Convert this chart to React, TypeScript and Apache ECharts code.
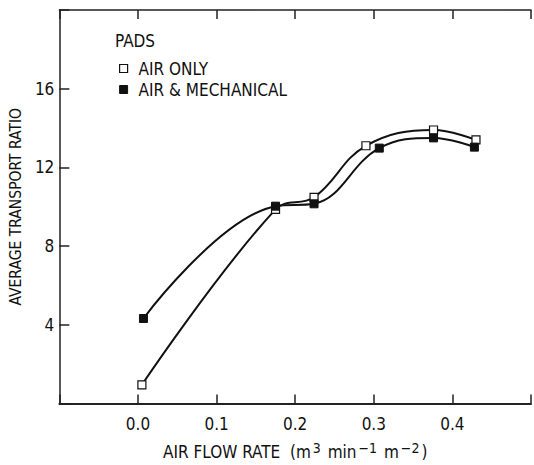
import React, { useEffect, useRef } from "react";
import * as echarts from "echarts";

const airOnlyX = [0.005, 0.175, 0.224, 0.29, 0.376, 0.43];
const airOnlyY = [0.95, 9.87, 10.48, 13.1, 13.9, 13.4];
const airMechX = [0.007, 0.175, 0.224, 0.307, 0.376, 0.428];
const airMechY = [4.32, 10.03, 10.15, 12.98, 13.5, 13.03];
const xTicks = [0.0, 0.1, 0.2, 0.3, 0.4];
const yTicks = [4, 8, 12, 16];

const FONT = "'DejaVu Sans Condensed', 'Liberation Sans Narrow', 'DejaVu Sans', sans-serif";

export default function App() {
  const ref = useRef<HTMLDivElement>(null);
  useEffect(() => {
    if (!ref.current) return;
    const chart = echarts.init(ref.current, undefined, { renderer: "svg" });
    const pair = (xs: number[], ys: number[]) => xs.map((x, i) => [x, ys[i]]);
    const fmtX = (v: number) => {
      const r = Math.round(v * 10) / 10;
      return xTicks.some((t) => Math.abs(t - r) < 1e-6) ? r.toFixed(1) : "";
    };
    const fmtY = (v: number) => (yTicks.includes(Math.round(v)) ? String(Math.round(v)) : "");
    chart.setOption({
      animation: false,
      backgroundColor: "#fff",
      textStyle: { fontFamily: FONT, color: "#111" },
      grid: { left: 57, right: 0, top: 10, bottom: 56, containLabel: false },
      xAxis: [
        {
          type: "value",
          position: "bottom",
          min: -0.1,
          max: 0.5,
          interval: 0.1,
          axisLine: { show: true, onZero: false, lineStyle: { color: "#222", width: 2 } },
          axisTick: { show: true, inside: true, length: 9, lineStyle: { color: "#222", width: 1.5 } },
          axisLabel: { formatter: fmtX, fontSize: 17, color: "#111", fontFamily: FONT, margin: 12 },
          splitLine: { show: false },
          name: "AIR FLOW RATE  (m{sup|3} min{sup|−1} m{sup|−2})",
          nameLocation: "middle",
          nameGap: 37,
          nameTextStyle: {
            fontSize: 17,
            color: "#111",
            fontFamily: FONT,
            rich: { sup: { fontSize: 14, verticalAlign: "top", padding: [0, 2, 8, 2], fontFamily: FONT, color: "#111" } },
          },
        },
        {
          type: "value",
          position: "top",
          min: -0.1,
          max: 0.5,
          interval: 0.1,
          axisLine: { show: true, onZero: false, lineStyle: { color: "#222", width: 1.5 } },
          axisTick: { show: true, inside: true, length: 9, lineStyle: { color: "#222", width: 1.5 } },
          axisLabel: { show: false },
          splitLine: { show: false },
        },
      ],
      yAxis: {
        type: "value",
        min: 0,
        max: 20,
        interval: 4,
        axisLine: { show: true, onZero: false, lineStyle: { color: "#222", width: 1.5 } },
        axisTick: { show: true, inside: true, length: 10, lineStyle: { color: "#222", width: 1.5 } },
        axisLabel: { formatter: fmtY, fontSize: 17, color: "#111", fontFamily: FONT, margin: 5 },
        splitLine: { show: false },
        name: "AVERAGE TRANSPORT RATIO",
        nameLocation: "middle",
        nameGap: 27,
        nameTextStyle: { fontSize: 15.5, color: "#111", fontFamily: FONT },
      },
      legend: {
        orient: "vertical",
        left: 114,
        top: 55,
        itemWidth: 8,
        itemHeight: 8,
        itemGap: 4,
        textStyle: { fontSize: 17, color: "#111", fontFamily: FONT, padding: [0, 0, 0, 6] },
        data: [
          { name: "AIR ONLY", icon: "rect", itemStyle: { color: "#fff", borderColor: "#111", borderWidth: 1.2 } },
          { name: "AIR & MECHANICAL", icon: "rect", itemStyle: { color: "#111", borderColor: "#111", borderWidth: 1 } },
        ],
      },
      graphic: [
        {
          type: "text",
          left: 115,
          top: 32,
          style: { text: "PADS", fontSize: 17, fill: "#111", fontFamily: FONT },
        },
      ],
      series: [
        {
          name: "AIR ONLY",
          type: "line",
          smooth: 0.4,
          data: pair(airOnlyX, airOnlyY),
          symbol: "rect",
          symbolSize: 8,
          lineStyle: { color: "#111", width: 2 },
          itemStyle: { color: "#fff", borderColor: "#111", borderWidth: 1.2 },
          z: 3,
        },
        {
          name: "AIR & MECHANICAL",
          type: "line",
          smooth: 0.4,
          data: pair(airMechX, airMechY),
          symbol: "rect",
          symbolSize: 8,
          lineStyle: { color: "#111", width: 2 },
          itemStyle: { color: "#111", borderColor: "#111", borderWidth: 1 },
          z: 4,
        },
      ],
    });
    return () => chart.dispose();
  }, []);
  return (
    <div
      ref={ref}
      style={{ position: "fixed", left: 0, top: 0, width: 534, height: 465, background: "#fff" }}
    />
  );
}
